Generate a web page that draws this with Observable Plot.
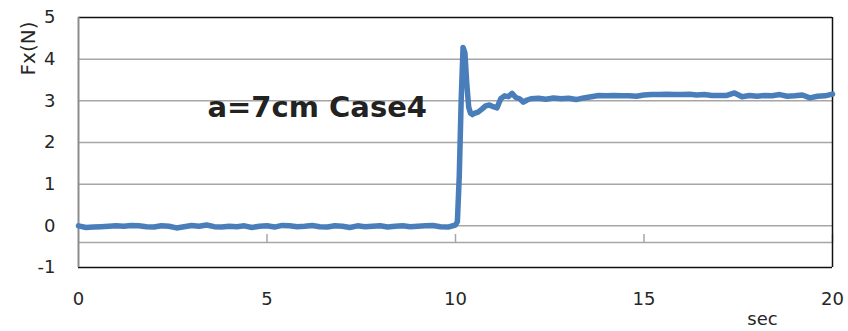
<!DOCTYPE html>
<html>
<head>
<meta charset="utf-8">
<script src="https://cdn.jsdelivr.net/npm/d3@7"></script>
<script src="https://cdn.jsdelivr.net/npm/@observablehq/plot@0.6"></script>
<style>
  html, body { margin: 0; padding: 0; background: #fff; }
  #chart { width: 848px; height: 331px; }
</style>
</head>
<body>
<div id="chart"></div>
<script>
// ---- data ----
const title = "a=7cm Case4";
const yLabel = "Fx(N)";
const xLabel = "sec";
const xTicks = [0, 5, 10, 15, 20];
const yTicks = [-1, 0, 1, 2, 3, 4, 5];
const gridValues = [0, 1, 2, 3, 4];
const axisCross = -0.4;

const timeSec = [
  0.0, 0.2, 0.4, 0.6, 0.8, 1.0, 1.2, 1.4, 1.6, 1.8,
  2.0, 2.2, 2.4, 2.6, 2.8, 3.0, 3.2, 3.4, 3.6, 3.8,
  4.0, 4.2, 4.4, 4.6, 4.8, 5.0, 5.2, 5.4, 5.6, 5.8,
  6.0, 6.2, 6.4, 6.6, 6.8, 7.0, 7.2, 7.4, 7.6, 7.8,
  8.0, 8.2, 8.4, 8.6, 8.8, 9.0, 9.2, 9.4, 9.6, 9.8,
  10.0, 10.05, 10.1, 10.15, 10.2, 10.25, 10.3, 10.35, 10.4, 10.45,
  10.5, 10.6, 10.7, 10.8, 10.9, 11.0, 11.1, 11.2, 11.3, 11.4,
  11.5, 11.6, 11.7, 11.8, 11.9, 12.0, 12.2, 12.4, 12.6, 12.8,
  13.0, 13.2, 13.4, 13.6, 13.8, 14.0, 14.2, 14.4, 14.6, 14.8,
  15.0, 15.2, 15.4, 15.6, 15.8, 16.0, 16.2, 16.4, 16.6, 16.8,
  17.0, 17.2, 17.4, 17.6, 17.8, 18.0, 18.2, 18.4, 18.6, 18.8,
  19.0, 19.2, 19.4, 19.6, 19.8, 20.0
];
const fxN = [
  0.00, -0.04, -0.03, -0.02, -0.01, 0.00, -0.01, 0.01, 0.00, -0.02,
  -0.03, 0.00, -0.01, -0.05, -0.02, 0.01, -0.01, 0.02, -0.02, -0.03,
  -0.01, -0.02, 0.00, -0.04, -0.01, 0.00, -0.03, 0.01, 0.00, -0.02,
  -0.01, 0.01, -0.02, -0.03, 0.00, -0.01, -0.04, 0.00, -0.02, -0.01,
  0.00, -0.03, -0.01, 0.00, -0.02, -0.01, 0.00, 0.01, -0.02, -0.03,
  0.02, 0.10, 1.20, 3.00, 4.28, 4.15, 3.40, 2.85, 2.70, 2.67,
  2.70, 2.73, 2.80, 2.88, 2.90, 2.86, 2.83, 3.05, 3.12, 3.10,
  3.18, 3.08, 3.05, 2.97, 3.02, 3.05, 3.06, 3.04, 3.07, 3.05,
  3.06, 3.03, 3.07, 3.10, 3.13, 3.12, 3.13, 3.12, 3.12, 3.11,
  3.14, 3.15, 3.15, 3.16, 3.15, 3.15, 3.16, 3.14, 3.15, 3.13,
  3.13, 3.13, 3.19, 3.10, 3.13, 3.11, 3.13, 3.12, 3.15, 3.11,
  3.12, 3.14, 3.07, 3.11, 3.12, 3.16
];

const series = timeSec.map((t, i) => ({t, fx: fxN[i]}));
const font = "'DejaVu Sans', sans-serif";

const chart = Plot.plot({
  width: 848,
  height: 331,
  marginLeft: 78,
  marginRight: 16,
  marginTop: 17,
  marginBottom: 64,
  style: {fontFamily: font, fontSize: "18px", color: "#262626", background: "#fff"},
  x: {domain: [0, 20]},
  y: {domain: [-1, 5]},
  marks: [
    Plot.ruleY(gridValues, {stroke: "#a6a6a6", strokeWidth: 1.5}),
    Plot.ruleY([axisCross], {stroke: "#a6a6a6", strokeWidth: 1.5}),
    Plot.ruleX(xTicks.slice(1), {y1: axisCross, y2: axisCross, insetTop: -8, stroke: "#a6a6a6", strokeWidth: 1.5}),
    Plot.ruleY([5, -1], {stroke: "#111", strokeWidth: 1.5}),
    Plot.ruleX([20], {stroke: "#111", strokeWidth: 1.5}),
    Plot.ruleX([0], {stroke: "#8c8c8c", strokeWidth: 2}),
    Plot.axisY({ticks: yTicks, tickFormat: d => String(d), tickSize: 0, tickPadding: 23, label: null, fontSize: 18, fill: "#262626"}),
    Plot.axisX({ticks: xTicks, tickFormat: d => String(d), tickSize: 0, tickPadding: 25, label: null, fontSize: 18, fill: "#262626"}),
    Plot.line(series, {x: "t", y: "fx", stroke: "#4a7ebb", strokeWidth: 5.5, strokeLinejoin: "round", strokeLinecap: "round"}),
    Plot.text([title], {frameAnchor: "top-left", dx: 129, dy: 79, text: d => d, textAnchor: "start", fontSize: 29, fontWeight: "bold", fill: "#222"}),
    Plot.text([yLabel], {frameAnchor: "top-left", dx: -58, dy: 31, text: d => d, rotate: -90, textAnchor: "middle", fontSize: 20, fill: "#262626"}),
    Plot.text([xLabel], {frameAnchor: "bottom-right", dx: -70, dy: 57, text: d => d, textAnchor: "middle", fontSize: 18, fill: "#262626"})
  ]
});
document.getElementById("chart").appendChild(chart);
</script>
</body>
</html>
